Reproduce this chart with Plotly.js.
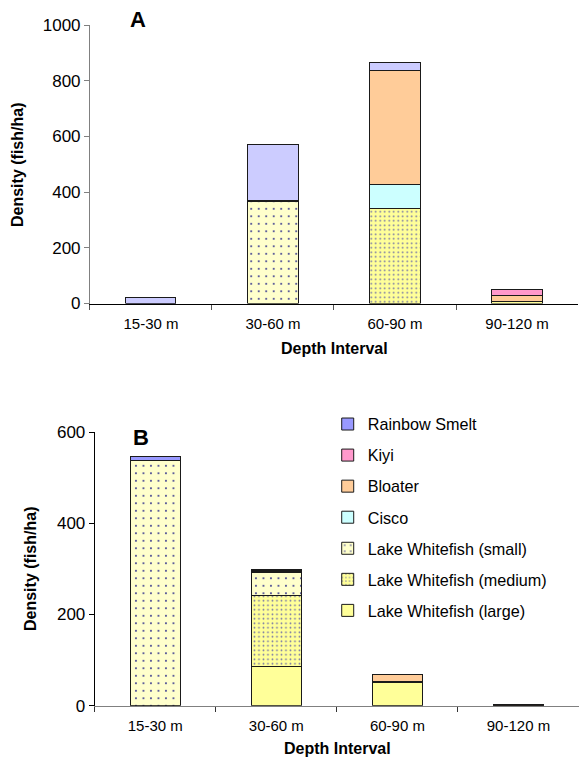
<!DOCTYPE html>
<html>
<head>
<meta charset="utf-8">
<script src="https://cdn.plot.ly/plotly-3.0.1.min.js"></script>
<style>html,body{margin:0;padding:0;background:#fff;}#chart{width:579px;height:763px;}</style>
</head>
<body>
<div id="chart"></div>
<script>
// Categories
const depths = ['15-30 m', '30-60 m', '60-90 m', '90-120 m'];

// Panel A values (fish/ha), stacked bottom -> top
const aLarge   = [0, 0, 0, 8];
const aMedium  = [0, 0, 341, 0];
const aSmall   = [0, 365, 0, 0];
const aCisco   = [0, 5, 86, 0];
const aBloater = [0, 0, 410, 22];
const aKiyi    = [0, 0, 0, 22];
const aSmelt   = [22, 200, 28, 0];

// Panel B values (fish/ha)
const bLarge   = [0, 85, 50, 0];
const bMedium  = [0, 157, 0, 0];
const bSmall   = [537, 51, 0, 0];
const bCisco   = [0, 2, 2, 0];
const bBloater = [0, 2, 16, 1];
const bKiyi    = [0, 0, 0, 1];
const bSmelt   = [10, 1, 0, 0];

const seriesNames = ['Lake Whitefish (large)', 'Lake Whitefish (medium)', 'Lake Whitefish (small)',
                     'Cisco', 'Bloater', 'Kiyi', 'Rainbow Smelt'];

const FONT = 'Liberation Sans, Arial, sans-serif';
const line = {color: '#1a1a1a', width: 1};

function style(name, panel) {
  switch (name) {
    case 'Lake Whitefish (large)':
      return {color: '#FFFF99', line: line};
    case 'Lake Whitefish (medium)':
      return {color: '#FFFF99', line: line,
              pattern: {shape: '.', bgcolor: '#FFFF99', fgcolor: '#6f6fa8', size: 4.5, solidity: 0.12, fillmode: 'replace'}};
    case 'Lake Whitefish (small)':
      return {color: '#FFFFCC', line: line,
              pattern: {shape: '.', bgcolor: '#FFFFCC', fgcolor: '#3a3a8f', size: 7.5, solidity: 0.06, fillmode: 'replace'}};
    case 'Cisco': return {color: '#CCFFFF', line: line};
    case 'Bloater': return {color: '#FFCC99', line: line};
    case 'Kiyi': return {color: '#FF99CC', line: line};
    case 'Rainbow Smelt': return {color: panel === 'A' ? '#CCCCFF' : '#9999FF', line: line};
  }
}

const aVals = [aLarge, aMedium, aSmall, aCisco, aBloater, aKiyi, aSmelt];
const bVals = [bLarge, bMedium, bSmall, bCisco, bBloater, bKiyi, bSmelt];

const traces = [];
seriesNames.forEach((n, i) => {
  traces.push({type: 'bar', name: n, x: depths, y: aVals[i], xaxis: 'x', yaxis: 'y',
               marker: style(n, 'A'), showlegend: false, legendgroup: n, hoverinfo: 'skip'});
});
seriesNames.forEach((n, i) => {
  traces.push({type: 'bar', name: n, x: depths, y: bVals[i], xaxis: 'x2', yaxis: 'y2',
               marker: style(n, 'B'), showlegend: true, legendgroup: n,
               legendrank: seriesNames.length - i, hoverinfo: 'skip'});
});

const xtickfont = {family: FONT, size: 15, color: '#000'};
const ytickfont = {family: FONT, size: 17, color: '#000'};
const titlefont = {family: FONT, size: 16, color: '#000'};

const xCommon = {type: 'category', tickson: 'boundaries', ticks: 'outside', ticklen: 5,
                 showline: true, showgrid: false, zeroline: false, tickfont: xtickfont,
                 ticklabelstandoff: 6};
const yCommon = {ticks: 'outside', ticklen: 5, showline: true, showgrid: false, zeroline: false,
                 dtick: 200, tickfont: ytickfont};

function ann(text, x, y, angle) {
  return {text: '<b>' + text + '</b>', xref: 'paper', yref: 'paper', x: x / 579, y: 1 - y / 763,
          xanchor: 'center', yanchor: 'middle', showarrow: false, textangle: angle || 0,
          font: titlefont};
}

const layout = {
  width: 579, height: 763,
  margin: {l: 0, r: 0, t: 0, b: 0},
  paper_bgcolor: '#fff', plot_bgcolor: '#fff',
  barmode: 'stack', bargap: 0.59,
  font: {family: FONT, color: '#000'},
  xaxis: Object.assign({}, xCommon, {domain: [0.1554, 0.9983], anchor: 'y',
                       linecolor: '#000', tickcolor: '#555'}),
  yaxis: Object.assign({}, yCommon, {domain: [0.6022, 0.9672], anchor: 'x', range: [0, 1000],
                       linecolor: '#808080', tickcolor: '#808080'}),
  xaxis2: Object.assign({}, xCommon, {domain: [0.1636, 1], anchor: 'y2',
                        linecolor: '#808080', tickcolor: '#333'}),
  yaxis2: Object.assign({}, yCommon, {domain: [0.0751, 0.4338], anchor: 'x2', range: [0, 600],
                        linecolor: '#000', tickcolor: '#000'}),
  legend: {x: 0.566, y: 1 - 407 / 763, xanchor: 'left', yanchor: 'top',
           traceorder: 'grouped', tracegroupgap: 7,
           font: {family: FONT, size: 16.2, color: '#000'}, bgcolor: 'rgba(0,0,0,0)'},
  annotations: [
    {text: '<b>A</b>', xref: 'paper', yref: 'paper', x: 137.5 / 579, y: 1 - 19.5 / 763,
     xanchor: 'center', yanchor: 'middle', showarrow: false, font: {family: FONT, size: 22, color: '#000'}},
    {text: '<b>B</b>', xref: 'paper', yref: 'paper', x: 141 / 579, y: 1 - 437 / 763,
     xanchor: 'center', yanchor: 'middle', showarrow: false, font: {family: FONT, size: 22, color: '#000'}},
    ann('Depth Interval', 334, 348),
    ann('Depth Interval', 337, 748),
    ann('Density (fish/ha)', 18, 165, -90),
    ann('Density (fish/ha)', 30, 569, -90)
  ]
};

Plotly.newPlot('chart', traces, layout, {displayModeBar: false, staticPlot: true});
</script>
</body>
</html>
